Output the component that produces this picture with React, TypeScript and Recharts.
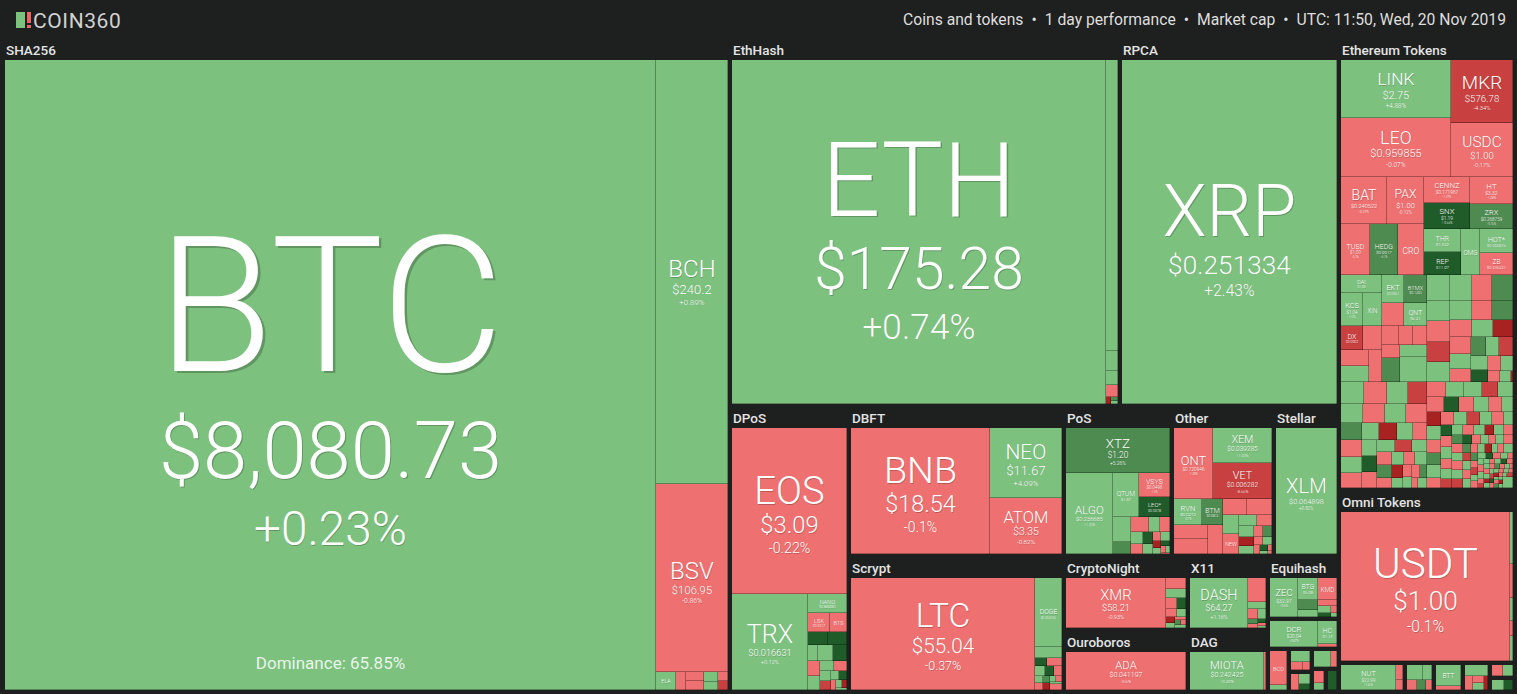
import { Treemap } from 'recharts';

type Coin = { name: string; cap: number; change: number; price?: string; note?: string };
type Node = {
  name: string;
  kind: 'coin' | 'box' | 'group';
  value?: number;
  change?: number;
  price?: string;
  note?: string;
  title?: string;
  label?: boolean;
  children?: Node[];
};

const BG = '#1e201f';
const FONT = 'Roboto, "Noto Sans", "DejaVu Sans", sans-serif';

const headerParts = ['Coins and tokens', '1 day performance', 'Market cap', 'UTC: 11:50, Wed, 20 Nov 2019'];

const sha256Coins: Coin[] = [
  { name: 'BTC', cap: 428050, change: 0.23, price: '$8,080.73', note: 'Dominance: 65.85%' },
  { name: 'BCH', cap: 31685, change: 0.89, price: '$240.2' },
  { name: 'BSV', cap: 14074, change: -0.86, price: '$106.95' },
  { name: 'ELA', cap: 380, change: 0.6 },
];
const sha256TailCaps = [190, 180, 160, 150, 120, 100, 90, 80, 70, 60, 50, 26];
const sha256TailChanges = [-1.2, -2.1, -0.8, 0.4, 1.5, -3.2, -6.1, 2.3, 11.0, -0.5, -12.0, 3.0];

const ethHashCoins: Coin[] = [
  { name: 'ETH', cap: 139090, change: 0.74, price: '$175.28' },
  { name: 'ETC', cap: 3727, change: 0.41 },
];
const ethHashTailCaps = [258, 180, 142, 40, 35, 25, 23];
const ethHashTailChanges = [1.2, 0.9, -2.5, -11.0, 6.0, 2.0, -1.0];

const rpcaCoins: Coin[] = [{ name: 'XRP', cap: 80592, change: 2.43, price: '$0.251334' }];

const ethTokenCoins: Coin[] = [
  { name: 'LINK', cap: 6912, change: 4.88, price: '$2.75' },
  { name: 'LEO', cap: 7031, change: -0.07, price: '$0.959855' },
  { name: 'MKR', cap: 4202, change: -4.34, price: '$576.78' },
  { name: 'USDC', cap: 3601, change: -0.17, price: '$1.00' },
  { name: 'BAT', cap: 2312, change: -0.37, price: '$0.240522' },
  { name: 'PAX', cap: 1901, change: -0.12, price: '$1.00' },
  { name: 'TUSD', cap: 1617, change: -0.2, price: '$1.00' },
  { name: 'HEDG', cap: 1505, change: 6.1, price: '$0.9917' },
  { name: 'CRO', cap: 1450, change: -1.9, price: '$0.036451' },
  { name: 'CENNZ', cap: 1279, change: -1.47, price: '$0.171967' },
  { name: 'SNX', cap: 1230, change: 15.66, price: '$1.19' },
  { name: 'HT', cap: 1222, change: -1.28, price: '$3.32' },
  { name: 'ZRX', cap: 1175, change: 5.76, price: '$0.268759' },
  { name: 'THR', cap: 971, change: 0.1, price: '$1.522' },
  { name: 'REP', cap: 930, change: 10.21, price: '$11.97' },
  { name: 'OMG', cap: 925, change: 1.1, price: '$0.8917' },
  { name: 'HOT*', cap: 902, change: 0.9, price: '$0.000876' },
  { name: 'ZB', cap: 794, change: -1.3, price: '$0.246221' },
  { name: 'DAI', cap: 787, change: 0.3, price: '$1.00' },
  { name: 'KCS', cap: 758, change: 1.2, price: '$1.04' },
  { name: 'XIN', cap: 722, change: 0.9, price: '$158.46' },
  { name: 'EKT', cap: 673, change: 2.1, price: '$0.0061' },
  { name: 'BTMX', cap: 704, change: 6.3, price: '$0.1293' },
  { name: 'THETA', cap: 553, change: -1.5, price: '$0.0902' },
  { name: 'QNT', cap: 578, change: 1.6, price: '$6.21' },
  { name: 'DX', cap: 551, change: -6.2, price: '$0.0003' },
  { name: 'DGTX', cap: 525, change: -1.1, price: '$0.0171' },
  { name: 'MCO', cap: 502, change: 0.8, price: '$3.41' },
];
const ethTokMidCaps = [490, 443];
const ethTokMidChanges = [-1.6, -2.3];
const ethTokSideCaps = [328, 295, 273, 258, 420, 350, 770];
const ethTokSideChanges = [-1.2, -0.8, -2.6, -1.9, 6.3, 1.4, 0.9];
const ethTokCrCaps = [640, 598, 571, 560, 533, 520, 497, 486, 455, 447, 420, 404, 388, 362, 350, 331, 318, 297, 284, 262, 240, 228, 205, 178, 150, 130, 89];
const ethTokCrChanges = [1.2, 0.8, -1.5, 7.1, 2.2, -2.4, -7.5, 0.6, 3.1, -1.1, 6.4, -0.9, 1.7, -12.5, -2.8, 0.4, -1.9, 5.5, 2.6, -6.2, 1.1, 12.4, -0.7, 0.9, -3.3, 2.0, -11.2];
const ethTokDlCaps = [560, 520, 505, 480, 462, 440, 418, 400, 385, 370, 352, 340, 328, 315, 300, 290, 276, 265, 252, 240, 230, 218, 205, 196, 185, 174, 165, 152, 140, 130, 120, 110, 100, 95, 70, 62];
const ethTokDlChanges = [1.4, -2.2, 0.7, -6.8, 2.9, -1.3, 1.8, -0.6, 6.2, -3.4, 0.9, -1.7, 3.6, -11.4, 0.3, -2.5, 1.2, 10.8, -0.8, 2.4, -4.6, 0.5, -1.9, 7.3, -2.7, 1.6, -0.4, 3.2, -13.0, 0.8, -1.4, 2.1, -0.9, 5.1, -2.0, 1.3];
const ethTokDrCaps = [
  310, 298, 287, 276, 272, 265, 251, 240, 233, 226,
  214, 209, 197, 192, 188, 188, 181, 176, 171, 169,
  166, 158, 154, 149, 146, 140, 137, 133, 129, 126,
  121, 119, 115, 112, 108, 106, 103, 99, 97, 94,
  91, 89, 86, 84, 82, 79, 77, 75, 73, 72,
  69, 67, 66, 63, 62, 60, 58, 57, 55, 54,
  52, 51, 49, 48, 46, 45, 44, 43, 42, 40,
  39, 38, 37, 36, 35, 34, 33, 32, 31, 31,
  30, 29, 28, 28, 27, 26, 25, 25, 24, 23,
  23, 22, 21, 21, 20, 19, 19, 18, 18, 17,
  17, 16, 16, 15, 15, 14, 14,
];
const ethTokDrChanges = [
  -1.3, 2.1, 0.6, -5.2, 1.8, -0.7, 11.4, -2.6, 0.9, -1.1,
  3.4, -12.2, 0.4, -0.9, 6.7, 1.5, -3.1, -0.5, 2.8, -7.9,
  0.3, -1.8, 1.1, 10.3, -2.2, 0.7, -0.4, 4.2, -6.6, 1.9,
  -1.5, 0.8, -14.1, 2.5, -0.6, 5.9, -2.9, 1.3, -0.8, 0.2,
  -4.4, 12.8, -1.2, 0.5, -3.7, 2.2, -0.3, 7.4, -9.1, 1.6,
  -1.9, 0.9, -0.2, 3.1, -11.7, 0.4, -2.4, 1.7, 6.1, -0.7,
  -5.8, 2.6, -1.4, 0.6, 13.5, -0.9, 1.2, -3.3, 0.8, -2.1,
  4.7, -0.5, -8.3, 1.4, -1.6, 0.3, 10.9, -2.7, 0.7, -0.4,
  2.3, -15.2, 1.1, -1.0, 5.4, -3.9, 0.5, -0.6, 1.8, -7.2,
  12.1, -1.7, 0.9, -2.5, 3.6, -0.8, -10.4, 1.5, -0.3, 6.8,
  -1.2, 0.4, -4.9, 2.0, -13.3, 0.6, 1.0,
];

const omniCoins: Coin[] = [{ name: 'USDT', cap: 29990, change: -0.1, price: '$1.00' }];
const omniTailCaps = [180, 120, 80, 50, 28];
const omniTailChanges = [0.3, -2.0, 1.0, -0.5, 4.0];

const tokenRowCoins: Coin[] = [
  { name: 'NUT', cap: 1708, change: 1.26, price: '$22.99' },
  { name: 'BTT', cap: 700, change: 0.5, price: '$0.000373' },
];
const tokenRowCaps = [[120, 86], [300, 180, 140, 120, 101], [141], [350, 150, 110, 90, 83], [200, 177], [200, 148]];
const tokenRowChanges = [[-1.5, -2.2], [1.1, 0.5, -1.8, 6.2, -0.7], [-1.1], [2.1, -0.9, -1.6, 0.8, -12.0], [-1.4, 0.6], [1.3, 11.5]];

const dposCoins: Coin[] = [
  { name: 'EOS', cap: 21598, change: -0.22, price: '$3.09' },
  { name: 'TRX', cap: 8290, change: 0.12, price: '$0.016631' },
  { name: 'NANO', cap: 829, change: 1.62, price: '$0.889983' },
  { name: 'LSK', cap: 458, change: -1.2, price: '$0.9517' },
  { name: 'BTS', cap: 371, change: -0.9, price: '$0.0412' },
];
const dposTailCaps = [273, 273, 172, 260, 230, 200, 180, 160, 140, 120, 105, 90, 80, 70, 55, 45, 35];
const dposTailChanges = [12.5, 10.4, 1.0, 1.4, 12.2, -1.3, 0.6, 2.2, -2.8, 0.9, -6.4, 1.8, 10.6, -0.4, 3.3, -11.5, 0.7];

const dbftCoins: Coin[] = [
  { name: 'BNB', cap: 21245, change: -0.1, price: '$18.54' },
  { name: 'NEO', cap: 6084, change: 4.09, price: '$11.67' },
  { name: 'ATOM', cap: 4921, change: -0.82, price: '$3.35' },
];

const scryptCoins: Coin[] = [
  { name: 'LTC', cap: 25499, change: -0.37, price: '$55.04' },
  { name: 'DOGE', cap: 2339, change: 0.42, price: '$0.002446' },
  { name: 'MONA', cap: 371, change: 0.9, price: '$1.35' },
];
const scryptTailCaps = [130, 150, 130, 110, 95, 85, 75, 65, 55, 45, 40, 30, 21];
const scryptTailChanges = [12.3, -1.2, 0.8, 10.9, -2.4, 1.5, -0.6, 6.2, -12.8, 0.4, -1.7, 2.6, -0.3];

const posCoins: Coin[] = [
  { name: 'XTZ', cap: 5832, change: 5.26, price: '$1.20' },
  { name: 'ALGO', cap: 4701, change: 1.33, price: '$0.236685' },
  { name: 'QTUM', cap: 1393, change: 0.47, price: '$1.87' },
  { name: 'VSYS', cap: 917, change: -1.5, price: '$0.0496' },
  { name: 'LEO*', cap: 758, change: 11.2, price: '$0.0078' },
  { name: 'NRG', cap: 339, change: -1.4, price: '$1.64' },
];
const posHeadCaps = [542, 249];
const posHeadChanges = [0.8, 6.1];
const posTailCaps = [224, 187, 187, 150, 137, 120, 100, 90, 75, 60, 50, 40, 30, 19];
const posTailChanges = [1.2, -0.9, 2.4, -1.8, 11.6, 0.6, -2.2, 1.4, -10.5, 0.3, 12.1, -1.1, 2.7, -0.5];

const otherCoins: Coin[] = [
  { name: 'ONT', cap: 3410, change: -1.25, price: '$0.720946' },
  { name: 'XEM', cap: 2579, change: 1.93, price: '$0.039285' },
  { name: 'VET', cap: 2579, change: -8.66, price: '$0.006282' },
  { name: 'RVN', cap: 911, change: 0.7, price: '$0.0272' },
  { name: 'BTM', cap: 674, change: 5.6, price: '$0.0812' },
  { name: 'DGB', cap: 600, change: -1.7, price: '$0.0072' },
  { name: 'SC', cap: 600, change: -2.1, price: '$0.0019' },
  { name: 'XVG', cap: 487, change: -2.4, price: '$0.0042' },
  { name: 'NEW', cap: 406, change: -0.8, price: '$0.0017' },
];
const otherLowCaps = [562];
const otherLowChanges = [-1.3];
const otherRightCaps = [468, 390];
const otherRightChanges = [-1.0, 1.5];
const otherTailCaps = [260, 220, 190, 170, 150, 130, 110, 95, 80, 70, 60, 45, 30, 24];
const otherTailChanges = [1.1, -1.9, 0.7, -11.8, 2.3, -0.6, 6.4, -2.7, 0.5, -1.4, 12.6, 1.9, -0.8, -3.5];

const stellarCoins: Coin[] = [{ name: 'XLM', cap: 9750, change: 0.82, price: '$0.064898' }];

const cryptoNightCoins: Coin[] = [{ name: 'XMR', cap: 7648, change: -0.93, price: '$58.21' }];
const cryptoNightTailCaps = [349, 261, 200, 160, 130, 110, 90, 75, 60, 45, 30, 18];
const cryptoNightTailChanges = [-1.6, 2.1, -0.4, 11.3, -2.2, 0.6, -12.1, 1.4, -0.9, 6.3, -3.1, 0.5];

const ouroborosCoins: Coin[] = [{ name: 'ADA', cap: 7688, change: -0.6, price: '$0.041197' }];

const x11Coins: Coin[] = [
  { name: 'DASH', cap: 4498, change: 1.18, price: '$64.27' },
  { name: 'ABBC', cap: 672, change: -1.9 },
];
const x11TailCaps = [200, 150, 120, 90, 70, 50, 40, 30];
const x11TailChanges = [1.2, -2.6, 0.4, 6.8, -1.1, 12.4, -0.6, 2.2];

const dagCoins: Coin[] = [{ name: 'MIOTA', cap: 4850, change: 0.29, price: '$0.242425' }];
const dagTailCaps = [110];
const dagTailChanges = [-1.4];

const equihashCoins: Coin[] = [
  { name: 'ZEC', cap: 1900, change: 0.6, price: '$32.97' },
  { name: 'BTG', cap: 745, change: 0.9, price: '$6.98' },
  { name: 'KMD', cap: 716, change: -1.9, price: '$0.8603' },
];
const equihashTailCaps = [320, 260, 200, 140, 100, 60, 32];
const equihashTailChanges = [6.5, 1.1, -0.7, 2.4, 11.1, -1.6, 0.8];

const blakeCoins: Coin[] = [
  { name: 'DCR', cap: 1530, change: 0.87, price: '$20.04' },
  { name: 'HC', cap: 535, change: 1.4, price: '$1.14' },
];
const blakeTailCaps = [65];
const blakeTailChanges = [-1.2];

const x13Coins: Coin[] = [{ name: 'BCD', cap: 780, change: -1.6, price: '$0.5521' }];
const minorGroupCaps = [[138], [300, 140, 100], [200, 160, 99], [400, 144], [200, 120], [272]];
const minorGroupChanges = [[1.0], [0.9, -1.4, -2.3], [-0.8, 1.7, 11.2], [1.3, -0.6], [-1.1, 0.5], [12.4]];

// ---- tree helpers ----
const coin = (c: Coin): Node => ({ name: c.name, value: c.cap, change: c.change, price: c.price, note: c.note, kind: 'coin', label: true });
const pick = (list: Coin[], ...names: string[]): Node[] => names.map((n) => coin(list.find((c) => c.name === n)!));
const tail = (id: string, caps: number[], changes: number[]): Node[] =>
  caps.map((v, i) => ({ name: `${id}-${i}`, value: v, change: changes[i], kind: 'coin' }));
const box = (...children: (Node | Node[])[]): Node => ({ name: '', kind: 'box', children: children.flat() });
const group = (title: string, ...children: (Node | Node[])[]): Node => ({ name: title || 'g', title, kind: 'group', children: children.flat() });

const sha256 = group('SHA256', sha256Coins.map(coin), tail('sha', sha256TailCaps, sha256TailChanges));
const ethHash = group('EthHash', ethHashCoins.map(coin), tail('eh', ethHashTailCaps, ethHashTailChanges));
const rpca = group('RPCA', rpcaCoins.map(coin));

const et = (...n: string[]) => pick(ethTokenCoins, ...n);
const ethTokens = group(
  'Ethereum Tokens',
  box(et('LINK', 'LEO', 'MKR', 'USDC')),
  box(
    box(box(et('BAT', 'PAX')), box(et('TUSD', 'HEDG', 'CRO'))),
    box(box(et('CENNZ', 'SNX', 'HT', 'ZRX')), box(box(et('THR', 'REP')), et('OMG'), box(et('HOT*', 'ZB')))),
  ),
  box(
    box(
      box(box(et('DAI'), box(et('KCS', 'XIN'))), box(box(et('EKT', 'BTMX')), box(et('THETA', 'QNT')))),
      box(
        box(et('DX', 'DGTX'), tail('etm', ethTokMidCaps.slice(0, 1), ethTokMidChanges.slice(0, 1)), et('MCO'), tail('etn', ethTokMidCaps.slice(1), ethTokMidChanges.slice(1))),
        box(tail('ets', ethTokSideCaps, ethTokSideChanges)),
      ),
    ),
    box(tail('etc', ethTokCrCaps, ethTokCrChanges)),
  ),
  box(box(tail('etl', ethTokDlCaps, ethTokDlChanges)), box(tail('etr', ethTokDrCaps, ethTokDrChanges))),
);
const omni = group('Omni Tokens', omniCoins.map(coin), tail('om', omniTailCaps, omniTailChanges));
const tokenRow = box(
  tokenRowCaps.map((caps, i) =>
    group('', i === 0 ? pick(tokenRowCoins, 'NUT') : i === 2 ? pick(tokenRowCoins, 'BTT') : [], tail(`tr${i}`, caps, tokenRowChanges[i])),
  ),
);

const dpos = group('DPoS', dposCoins.map(coin), tail('dp', dposTailCaps, dposTailChanges));
const dbft = group('DBFT', dbftCoins.map(coin));
const scrypt = group('Scrypt', scryptCoins.map(coin), tail('sc', scryptTailCaps, scryptTailChanges));
const pos = group(
  'PoS',
  pick(posCoins, 'XTZ'),
  box(
    pick(posCoins, 'ALGO'),
    box(
      box(pick(posCoins, 'QTUM'), box(pick(posCoins, 'VSYS', 'LEO*'))),
      box(tail('ph', posHeadCaps, posHeadChanges), pick(posCoins, 'NRG'), tail('pt', posTailCaps, posTailChanges)),
    ),
  ),
);
const other = group(
  'Other',
  box(pick(otherCoins, 'ONT'), box(pick(otherCoins, 'XEM', 'VET'))),
  box(
    box(box(pick(otherCoins, 'RVN', 'BTM')), box(pick(otherCoins, 'DGB', 'SC'), tail('ol', otherLowCaps, otherLowChanges))),
    box(pick(otherCoins, 'XVG'), tail('or', otherRightCaps, otherRightChanges), pick(otherCoins, 'NEW'), tail('ot', otherTailCaps, otherTailChanges)),
  ),
);
const stellar = group('Stellar', stellarCoins.map(coin));
const cryptoNight = group('CryptoNight', cryptoNightCoins.map(coin), tail('cn', cryptoNightTailCaps, cryptoNightTailChanges));
const ouroboros = group('Ouroboros', ouroborosCoins.map(coin));
const x11 = group('X11', x11Coins.map(coin), tail('x11', x11TailCaps, x11TailChanges));
const dag = group('DAG', dagCoins.map(coin), tail('dag', dagTailCaps, dagTailChanges));
const equihash = group('Equihash', equihashCoins.map(coin), tail('eq', equihashTailCaps, equihashTailChanges));
const blake = group('Blake256', blakeCoins.map(coin), tail('bl', blakeTailCaps, blakeTailChanges));
const minor = box(minorGroupCaps.map((caps, i) => group('', i === 0 ? x13Coins.map(coin) : [], tail(`mg${i}`, caps, minorGroupChanges[i]))));

const treeData: Node[] = [
  sha256,
  box(
    box(
      box(ethHash, rpca),
      box(dpos, box(dbft, scrypt), box(box(pos, other, stellar), box(box(cryptoNight, ouroboros), box(x11, dag), box(equihash, blake, minor)))),
    ),
    box(ethTokens, omni, tokenRow),
  ),
];

// ---- drawing ----
function tone(c: number): string {
  if (c >= 10) return '#1f5c2a';
  if (c >= 5) return '#4e8b50';
  if (c >= 0) return '#7dc17f';
  if (c > -4) return '#ee7070';
  if (c > -10) return '#c8403f';
  return '#a82222';
}

function gatherLeaves(n: any, out: any[]) {
  if (n.children && n.children.length) n.children.forEach((c: any) => gatherLeaves(c, out));
  else out.push(n);
}

// white label with a thin dark drop shadow underneath
function Txt({ x, y, size, children }: { x: number; y: number; size: number; children: string }) {
  const d = Math.max(0.5, size * 0.014);
  return (
    <>
      <text x={x + d} y={y + d} fontSize={size} textAnchor="middle" fill="rgba(0,0,0,0.22)" fontFamily={FONT} fontWeight={300}>
        {children}
      </text>
      <text x={x} y={y} fontSize={size} textAnchor="middle" fill="#ffffff" fontFamily={FONT} fontWeight={300}>
        {children}
      </text>
    </>
  );
}

function CoinLabel({ x, y, w, h, n }: { x: number; y: number; w: number; h: number; n: any }) {
  const tf = Math.min(h * 0.3, w / Math.max(n.name.length, 2.4));
  if (tf < 5) return null;
  let pf = n.price ? Math.min(0.62 * tf, (1.1 * w) / n.price.length) : 0;
  if (pf < 3.2) pf = 0;
  let cf = pf ? 0.6 * pf : 0;
  if (cf < 2.6) cf = 0;
  const pct = `${n.change > 0 ? '+' : ''}${n.change}%`;
  const a = 0.71 * tf;
  const g1 = pf ? 0.17 * tf + 0.95 * pf : 0;
  const g2 = cf ? 0.3 * pf + 0.9 * cf : 0;
  const top = y + h / 2 + 0.025 * h - (a + g1 + g2) / 2;
  const tb = top + a;
  const cx = x + w / 2;
  return (
    <g>
      <Txt x={cx} y={tb} size={tf}>{n.name}</Txt>
      {pf > 0 && <Txt x={cx} y={tb + g1} size={pf}>{n.price}</Txt>}
      {cf > 0 && <Txt x={cx} y={tb + g1 + g2} size={cf}>{pct}</Txt>}
      {n.note && (
        <text x={cx} y={y + h - 21} fontSize={17} textAnchor="middle" fill="#ffffff" fillOpacity={0.85} fontFamily={FONT} fontWeight={400}>
          {n.note}
        </text>
      )}
    </g>
  );
}

function renderNode(props: any) {
  const { kind, x, y, width, height, title } = props;
  if (kind !== 'group' || !width || !height) return <g />;
  const header = !!title && width >= 50 && height >= 50;
  const ix = x + 2;
  const iy = y + (header ? 22 : 2);
  const sx = (width - 4) / width;
  const sy = (height - (header ? 24 : 4)) / height;
  const leaves: any[] = [];
  gatherLeaves(props, leaves);
  return (
    <g>
      {header && (
        <text x={x + 3} y={y + 16.5} fontSize={13.5} fontWeight={500} fill="#e4e4e4" fontFamily={FONT}>
          {title}
        </text>
      )}
      {leaves.map((n, i) => {
        const x0 = Math.round(ix + (n.x - x) * sx);
        const x1 = Math.round(ix + (n.x + n.width - x) * sx);
        const y0 = Math.round(iy + (n.y - y) * sy);
        const y1 = Math.round(iy + (n.y + n.height - y) * sy);
        const w = x1 - x0;
        const h = y1 - y0;
        if (w <= 0 || h <= 0) return null;
        return (
          <g key={i}>
            <rect x={x0} y={y0} width={w} height={h} fill={tone(n.change ?? 0)} />
            <path d={`M${x1 - 0.5} ${y0}V${y1}M${x0} ${y1 - 0.5}H${x1}`} stroke="rgba(0,0,0,0.3)" strokeWidth={1} fill="none" />
            {n.label && <CoinLabel x={x0} y={y0} w={w} h={h} n={n} />}
          </g>
        );
      })}
    </g>
  );
}

export default function App() {
  return (
    <div style={{ position: 'absolute', left: 0, top: 0, width: 1517, height: 694, background: BG, overflow: 'hidden', fontFamily: FONT }}>
      <svg width={160} height={38} style={{ position: 'absolute', left: 0, top: 0 }}>
        <rect x={16} y={12} width={9} height={16} fill="#7dc17f" />
        <rect x={27} y={12} width={4} height={11} fill="#ee6262" />
        <rect x={27} y={25} width={4} height={3} fill="#ee6262" />
        <text x={33} y={28} fontSize={21} fill="#d2d2d2" fontFamily={FONT} letterSpacing={0.6}>
          COIN360
        </text>
      </svg>
      <div style={{ position: 'absolute', right: 11, top: 8, height: 24, lineHeight: '24px', fontSize: 15.7, color: '#dedede', whiteSpace: 'nowrap' }}>
        {headerParts.map((p, i) => (
          <span key={i}>
            {i > 0 && <span style={{ margin: '0 8px' }}>•</span>}
            {p}
          </span>
        ))}
      </div>
      <div style={{ position: 'absolute', left: 3, top: 38 }}>
        <Treemap width={1512} height={654} data={treeData} dataKey="value" aspectRatio={1} isAnimationActive={false} content={renderNode} />
      </div>
    </div>
  );
}
